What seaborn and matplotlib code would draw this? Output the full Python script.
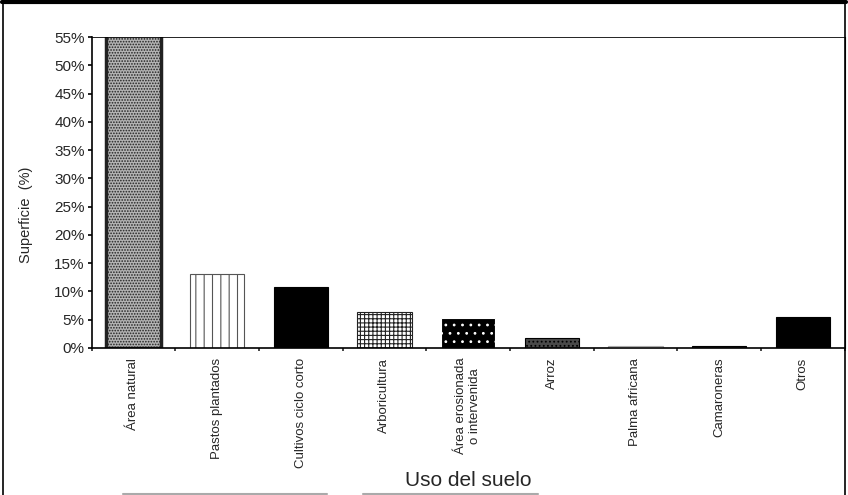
import matplotlib
matplotlib.use("Agg")
import matplotlib.pyplot as plt
import seaborn as sns
import pandas as pd
from matplotlib.lines import Line2D
from matplotlib.ticker import FuncFormatter, MultipleLocator

categorias = ['Área natural', 'Pastos plantados', 'Cultivos ciclo corto', 'Arboricultura',
              'Área erosionada\no intervenida', 'Arroz', 'Palma africana', 'Camaroneras', 'Otros']
superficie = [57.0, 13.1, 10.8, 6.3, 5.3, 1.8, 0.3, 0.4, 5.5]

caras = ['#b4b4b4', 'white', 'black', 'white', 'black', '#4a4a4a', 'white', '#333333', 'black']
bordes = ['#222222', '#555555', 'black', '#222222', 'white', 'black', '#aaaaaa', 'black', 'black']
tramas = ['......', '||', '', '++++', '..', '....', '..', '', '']


def main():
    sns.set_style('ticks')
    plt.rcParams['font.family'] = ['Liberation Sans', 'DejaVu Sans']
    plt.rcParams['hatch.linewidth'] = 0.8

    df = pd.DataFrame({'uso': categorias, 'sup': superficie})

    fig, ax = plt.subplots(figsize=(8.48, 4.95), dpi=100)
    fig.subplots_adjust(left=0.108, right=0.996, top=0.925, bottom=0.297)

    sns.barplot(data=df, x='uso', y='sup', color='black', width=0.65, ax=ax)

    for p, fc, ec, h in zip(ax.patches, caras, bordes, tramas):
        p.set_facecolor(fc)
        p.set_edgecolor(ec)
        p.set_hatch(h)
        p.set_linewidth(0.8)
    ax.patches[0].set_linewidth(2.5)

    ax.set_ylim(0, 55)
    ax.set_xlim(-0.5, len(categorias) - 0.5)
    ax.yaxis.set_major_locator(MultipleLocator(5))
    ax.yaxis.set_major_formatter(FuncFormatter(lambda v, pos: f'{v:.0f}%'))
    ax.tick_params(axis='y', labelsize=11, length=3, width=1.2, color='black', pad=2)
    ax.set_xticks(range(len(categorias)))
    ax.set_xticklabels(categorias, rotation=90, va='top', ha='center')
    ax.tick_params(axis='x', labelsize=9.5, length=0, pad=7)
    ax.set_xticks([i + 0.5 for i in range(-1, len(categorias))], minor=True)
    ax.tick_params(axis='x', which='minor', length=2, width=1.2, direction='out')

    for s in ax.spines.values():
        s.set_visible(True)
        s.set_linewidth(1.2)
        s.set_color('black')
    ax.spines['top'].set_linewidth(0.6)
    ax.spines['right'].set_linewidth(0.8)

    ax.set_ylabel('Superficie  (%)', fontsize=10.5)
    ax.yaxis.set_label_coords(-0.078, 0.43)
    ax.set_xlabel('Uso del suelo', fontsize=15)
    ax.xaxis.set_label_coords(0.5, -0.395)

    # marco de la figura
    fig.add_artist(Line2D([0.002, 0.998], [0.996, 0.996], transform=fig.transFigure, color='black', lw=3))
    fig.add_artist(Line2D([0.004, 0.004], [0.0, 0.996], transform=fig.transFigure, color='black', lw=1.2))
    fig.add_artist(Line2D([0.997, 0.997], [0.0, 0.996], transform=fig.transFigure, color='black', lw=1.2))
    fig.add_artist(Line2D([0.145, 0.386], [0.003, 0.003], transform=fig.transFigure, color='#aaaaaa', lw=1.5))
    fig.add_artist(Line2D([0.428, 0.635], [0.003, 0.003], transform=fig.transFigure, color='#aaaaaa', lw=1.5))

    fig.savefig('out.png', dpi=100)


if __name__ == "__main__":
    main()
